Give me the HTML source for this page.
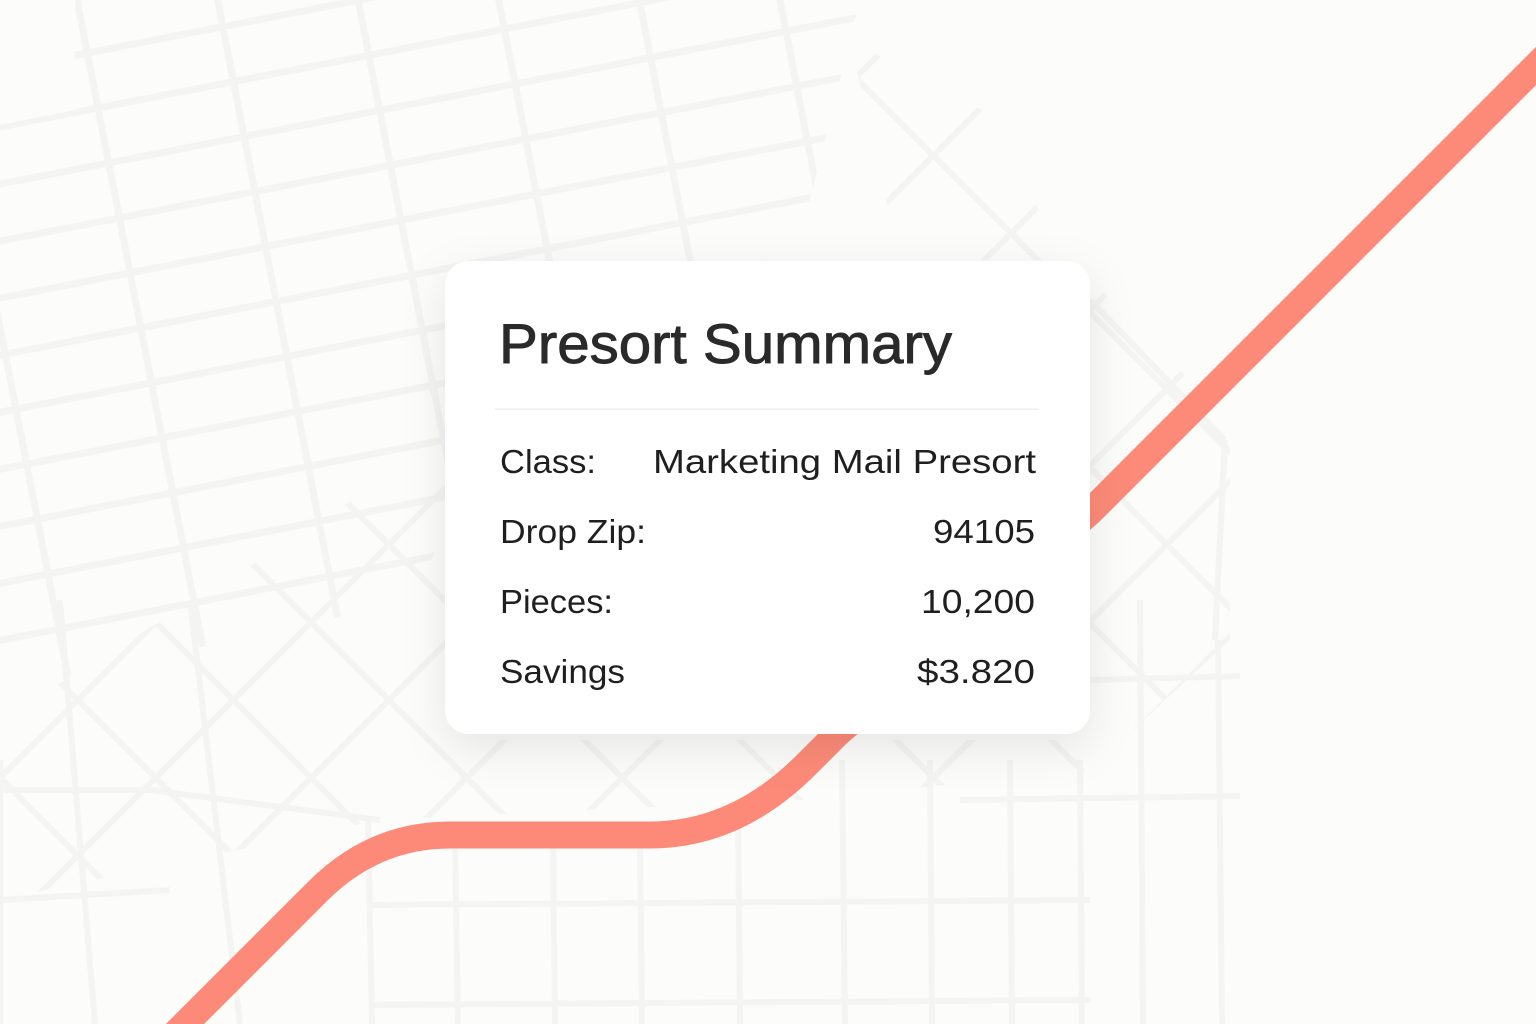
<!DOCTYPE html>
<html>
<head>
<meta charset="utf-8">
<style>
  html,body{margin:0;padding:0;background:#fcfcfb;}
  svg{display:block;}
  text{font-family:"Liberation Sans",Arial,sans-serif;}
</style>
</head>
<body>
<svg width="1536" height="1024" viewBox="0 0 1536 1024" xmlns="http://www.w3.org/2000/svg">
  <defs>
    <pattern id="rotGrid" patternUnits="userSpaceOnUse" x="75.6" y="12.7" width="138" height="56" patternTransform="rotate(-11)">
      <rect x="-3.5" y="0" width="7" height="56" fill="#f4f4f3"/>
      <rect x="0" y="-3.5" width="138" height="7" fill="#f4f4f3"/>
      <rect x="134.5" y="0" width="7" height="56" fill="#f4f4f3"/>
      <rect x="0" y="52.5" width="138" height="7" fill="#f4f4f3"/>
    </pattern>
    <pattern id="diagGrid" patternUnits="userSpaceOnUse" x="0" y="0" width="110" height="110" patternTransform="rotate(45)">
      <rect x="-3" y="0" width="6" height="110" fill="#f4f4f3"/>
      <rect x="0" y="-3" width="110" height="6" fill="#f4f4f3"/>
      <rect x="107" y="0" width="6" height="110" fill="#f4f4f3"/>
      <rect x="0" y="107" width="110" height="6" fill="#f4f4f3"/>
    </pattern>
    <clipPath id="clipRot">
      <polygon points="0,125 75,110 75,0 860,0 800,240 470,430 420,600 0,690"/>
    </clipPath>
    <clipPath id="clipDiag">
      <polygon points="0,720 260,560 445,440 445,740 1090,740 1090,280 1230,420 1230,640 1090,770 800,800 380,820 0,900"/>
      <polygon points="850,40 1000,120 1060,260 900,260"/>
    </clipPath>
    <filter id="shadow" x="-20%" y="-20%" width="140%" height="150%">
      <feDropShadow dx="0" dy="14" stdDeviation="22" flood-color="#000" flood-opacity="0.09"/>
    </filter>
  </defs>

  <rect x="0" y="0" width="1536" height="1024" fill="#fcfcfb"/>

  <!-- background map grids -->
  <rect x="0" y="0" width="1536" height="1024" fill="url(#rotGrid)" clip-path="url(#clipRot)"/>
  <rect x="0" y="0" width="1536" height="1024" fill="url(#diagGrid)" clip-path="url(#clipDiag)"/>

  <g stroke="#f4f4f3" stroke-width="6" fill="none">
    <line x1="368" y1="820" x2="372" y2="1024"/>
    <line x1="455" y1="840" x2="458" y2="1024"/>
    <line x1="553" y1="840" x2="555" y2="1024"/>
    <line x1="640" y1="840" x2="642" y2="1024"/>
    <line x1="738" y1="800" x2="740" y2="1024"/>
    <line x1="842" y1="760" x2="845" y2="1024"/>
    <line x1="930" y1="760" x2="932" y2="1024"/>
    <line x1="1010" y1="760" x2="1012" y2="1024"/>
    <line x1="1080" y1="760" x2="1082" y2="1024"/>
    <line x1="1140" y1="600" x2="1143" y2="1024"/>
    <line x1="1218" y1="640" x2="1222" y2="1024"/>
    <line x1="370" y1="905" x2="1090" y2="900"/>
    <line x1="370" y1="1005" x2="1090" y2="1000"/>
    <line x1="960" y1="800" x2="1240" y2="796"/>
    <line x1="1090" y1="680" x2="1240" y2="676"/>
    <line x1="60" y1="600" x2="95" y2="1024"/>
    <line x1="190" y1="600" x2="240" y2="1024"/>
    <line x1="0" y1="760" x2="0" y2="1024"/>
    <line x1="0" y1="790" x2="150" y2="790"/>
    <line x1="150" y1="790" x2="380" y2="820"/>
    <line x1="0" y1="900" x2="170" y2="890"/>
    <line x1="1090" y1="300" x2="1225" y2="440"/>
    <line x1="1225" y1="440" x2="1215" y2="640"/>
  </g>

  <!-- route line -->
  <path d="M 150 1059 L 318 891 Q 374 835 450 835 L 650 835 Q 736 835 806 765 L 837 734 L 1090 512 L 1562 40"
        fill="none" stroke="#fd8a78" stroke-width="27" stroke-linejoin="round"/>

  <!-- card -->
  <rect x="445" y="261" width="645" height="473" rx="24" ry="24" fill="#ffffff" filter="url(#shadow)"/>

  <text x="499" y="363" font-size="56" fill="#2a2a2a" stroke="#2a2a2a" stroke-width="0.9" textLength="453" lengthAdjust="spacingAndGlyphs">Presort Summary</text>

  <rect x="495" y="408.5" width="543" height="1.5" fill="#ececec"/>

  <g font-size="33" fill="#1f1f1f">
    <text x="500" y="473" textLength="96" lengthAdjust="spacingAndGlyphs">Class:</text>
    <text x="653" y="473" textLength="383" lengthAdjust="spacingAndGlyphs">Marketing Mail Presort</text>

    <text x="500" y="543" textLength="146" lengthAdjust="spacingAndGlyphs">Drop Zip:</text>
    <text x="933" y="543" textLength="102" lengthAdjust="spacingAndGlyphs">94105</text>

    <text x="500" y="613" textLength="113" lengthAdjust="spacingAndGlyphs">Pieces:</text>
    <text x="921" y="613" textLength="114" lengthAdjust="spacingAndGlyphs">10,200</text>

    <text x="500" y="683" textLength="125" lengthAdjust="spacingAndGlyphs">Savings</text>
    <text x="917" y="683" textLength="118" lengthAdjust="spacingAndGlyphs">$3.820</text>
  </g>
</svg>
</body>
</html>
